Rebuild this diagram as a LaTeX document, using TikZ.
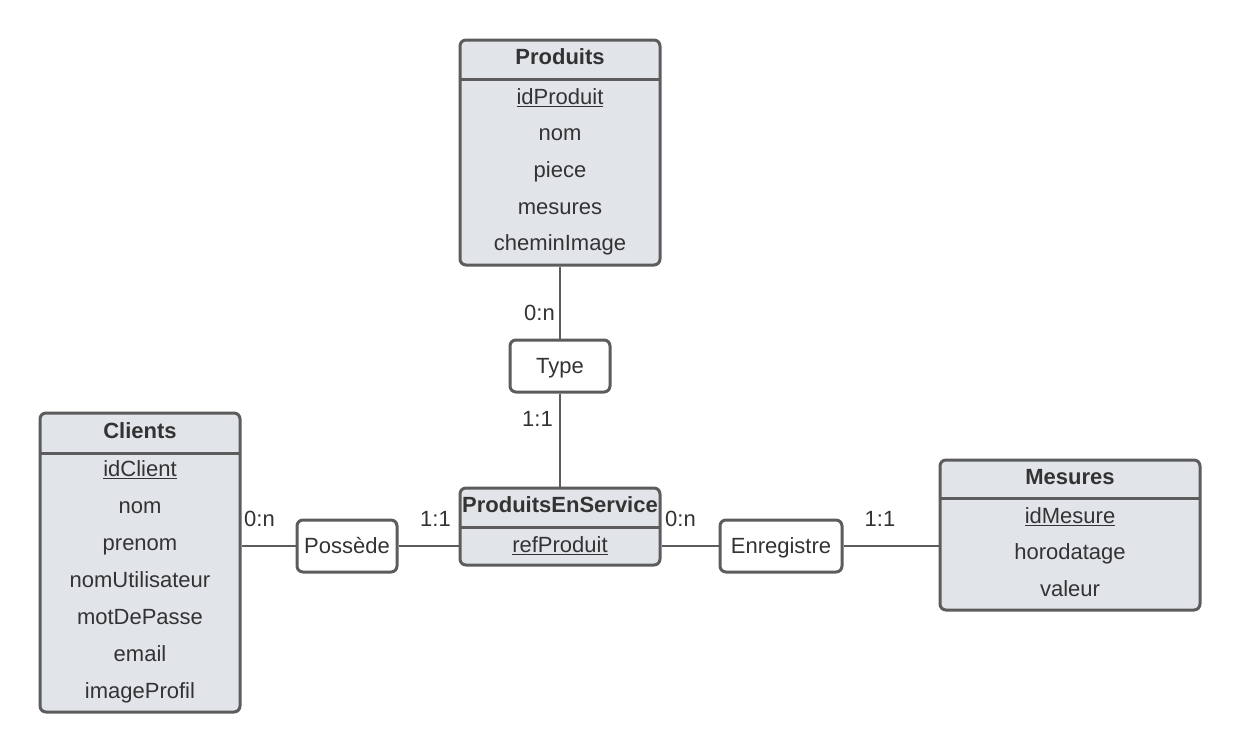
\documentclass[tikz,border=0pt]{standalone}
\usepackage{fontspec}
\setmainfont{Liberation Sans}
\definecolor{lineC}{HTML}{5C5C5C}
\definecolor{fillC}{HTML}{E1E4E9}
\definecolor{txtC}{HTML}{333333}
\begin{document}
\begin{tikzpicture}[x=1pt,y=-1pt,
  font=\fontsize{22}{26}\selectfont,
  entity/.style={draw=lineC, fill=fillC, line width=3pt, rounded corners=6pt, inner sep=0pt},
  rel/.style={draw=lineC, fill=white, line width=3pt, rounded corners=6pt, inner sep=0pt, text=txtC, text height=17pt, text depth=2pt},
  sepline/.style={draw=lineC, line width=3pt},
  conn/.style={draw=lineC, line width=2pt},
  ttl/.style={text=txtC, font=\fontsize{22}{26}\selectfont\bfseries, inner sep=0pt, text height=17pt, text depth=2pt},
  attr/.style={text=txtC, inner sep=0pt, text height=17pt, text depth=2pt},
  lab/.style={text=txtC, inner sep=0pt, text height=17pt, text depth=2pt}]
\useasboundingbox (0,0) rectangle (1240,753);

% Produits
\node[entity, minimum width=200pt, minimum height=225pt] (prod) at (560,152.5) {};
\draw[sepline] (460,79) -- (660,79);
\node[ttl] (prodT) at (560,57) {Produits};
\node[attr] (p1) at (560,97) {\underline{idProduit}};
\node[attr] (p2) at (560,133) {nom};
\node[attr] (p3) at (560,170) {piece};
\node[attr] (p4) at (560,207) {mesures};
\node[attr] (p5) at (560,243) {cheminImage};

% Clients
\node[entity, minimum width=200pt, minimum height=299pt] (cli) at (140,562.5) {};
\draw[sepline] (40,453) -- (240,453);
\node[ttl] (cliT) at (140,431) {Clients};
\node[attr] (c1) at (140,469) {\underline{idClient}};
\node[attr] (c2) at (140,506) {nom};
\node[attr] (c3) at (140,543) {prenom};
\node[attr] (c4) at (140,580) {nomUtilisateur};
\node[attr] (c5) at (140,617) {motDePasse};
\node[attr] (c6) at (140,654) {email};
\node[attr] (c7) at (140,691) {imageProfil};

% ProduitsEnService
\node[entity, minimum width=200pt, minimum height=77pt] (pes) at (560,526.5) {};
\draw[sepline] (460,527) -- (660,527);
\node[ttl] (pesT) at (560,505) {ProduitsEnService};
\node[attr] (pes1) at (560,545) {\underline{refProduit}};

% Mesures
\node[entity, minimum width=260pt, minimum height=150pt] (mes) at (1070,535) {};
\draw[sepline] (940,498) -- (1200,498);
\node[ttl] (mesT) at (1070,477) {Mesures};
\node[attr] (m1) at (1070,516) {\underline{idMesure}};
\node[attr] (m2) at (1070,552) {horodatage};
\node[attr] (m3) at (1070,589) {valeur};

% Relations
\node[rel, minimum width=100pt, minimum height=52pt] (type) at (560,366) {Type};
\node[rel, minimum width=100pt, minimum height=52pt] (poss) at (347,546) {Possède};
\node[rel, minimum width=122pt, minimum height=52pt] (enr) at (781,546) {Enregistre};

% Connectors
\draw[conn] (prod.south) -- (type.north);
\draw[conn] (type.south) -- (pes.north);
\draw[conn] (poss.west) -- (poss.west -| cli.east);
\draw[conn] (poss.east) -- (poss.east -| pes.west);
\draw[conn] (enr.west) -- (enr.west -| pes.east);
\draw[conn] (enr.east) -- (enr.east -| mes.west);

% Cardinalities
\node[lab, anchor=east] (l1) at (555,313) {0:n};
\node[lab, anchor=east] (l2) at (553,419) {1:1};
\node[lab, anchor=west] (l3) at (244,519) {0:n};
\node[lab, anchor=east] (l4) at (451,519) {1:1};
\node[lab, anchor=west] (l5) at (665,519) {0:n};
\node[lab, anchor=center] (l6) at (880,519) {1:1};
\end{tikzpicture}
\end{document}
